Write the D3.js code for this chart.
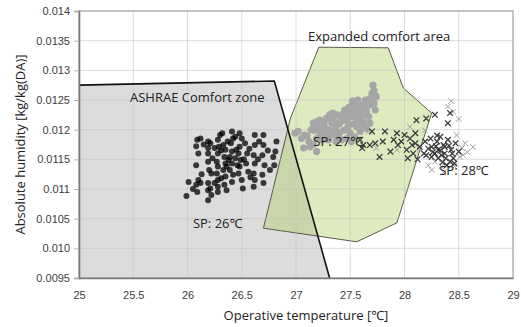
<!DOCTYPE html>
<html><head><meta charset="utf-8">
<script src="https://cdn.jsdelivr.net/npm/d3@7"></script>
<style>
html,body{margin:0;padding:0;background:#fff;}
svg{display:block;font-family:"Open Sans","Noto Sans",sans-serif;}
</style></head>
<body><svg id="chart" width="521" height="327"></svg>
<script>
// ---- data ----
const xTicks = [25,25.5,26,26.5,27,27.5,28,28.5,29];
const xTickLabels = ["25","25.5","26","26.5","27","27.5","28","28.5","29"];
const yTicks = [0.0095,0.010,0.0105,0.011,0.0115,0.012,0.0125,0.013,0.0135,0.014];
const yTickLabels = ["0.0095","0.010","0.0105","0.011","0.0115","0.012","0.0125","0.013","0.0135","0.014"];

const ashraeZone = [[25,0.0095],[25,0.01275],[26.80,0.01282],[27.31,0.0095]];
const expandedArea = [[27.21,0.01339],[27.85,0.01338],[27.99,0.01270],[28.25,0.01228],[27.93,0.01043],[27.56,0.01011],[26.70,0.01034],[26.95,0.01220]];

const sp26 = [[26.01,0.01112],[25.99,0.01088],[26.09,0.01183],[26.08,0.01172],[26.10,0.01160],[26.08,0.01140],[26.10,0.01115],[26.08,0.01107],[26.09,0.01095],[26.12,0.01185],[26.12,0.01110],
[26.19,0.01180],[26.19,0.01169],[26.19,0.01160],[26.19,0.01146],[26.20,0.01132],[26.19,0.01110],[26.19,0.01098],[26.19,0.01081],[26.21,0.01177],[26.22,0.01126],[26.21,0.01101],
[26.30,0.01191],[26.28,0.01183],[26.29,0.01171],[26.28,0.01160],[26.27,0.01146],[26.28,0.01138],[26.27,0.01126],[26.28,0.01115],[26.28,0.01104],[26.28,0.01095],
[26.32,0.01194],[26.33,0.01174],[26.35,0.01166],[26.34,0.01154],[26.35,0.01143],[26.33,0.01132],[26.35,0.01121],[26.34,0.01107],[26.36,0.01098],
[26.41,0.01197],[26.42,0.01185],[26.40,0.01177],[26.41,0.01163],[26.39,0.01154],[26.41,0.01143],[26.39,0.01132],[26.42,0.01124],[26.41,0.01112],
[26.48,0.01194],[26.50,0.01185],[26.48,0.01171],[26.47,0.01160],[26.49,0.01149],[26.48,0.01138],[26.47,0.01126],[26.50,0.01115],[26.51,0.01101],
[26.53,0.01177],[26.55,0.01160],[26.54,0.01143],[26.56,0.01129],
[26.62,0.01191],[26.62,0.01174],[26.61,0.01157],[26.62,0.01143],[26.61,0.01126],[26.62,0.01115],[26.61,0.01104],
[26.70,0.01191],[26.70,0.01174],[26.69,0.01157],[26.71,0.01140],[26.69,0.01124],[26.70,0.01110],
[26.82,0.01180],[26.81,0.01163],[26.79,0.01154],[26.80,0.01140],
[26.25,0.01169],[26.38,0.01149],[26.45,0.01166],[26.25,0.01110],[26.36,0.01138],[26.44,0.01152],
[26.15,0.01175],[26.23,0.01152],[26.31,0.01165],[26.37,0.01180],[26.44,0.01188],[26.46,0.01140],[26.52,0.01150],[26.57,0.01168],[26.58,0.01120],
[26.66,0.01180],[26.65,0.01150],[26.31,0.01118],[26.22,0.01090],[26.13,0.01125],[26.05,0.01100],[26.74,0.01165],[26.76,0.01132]];

const sp27 = [[26.99,0.01194],[27.02,0.01197],[27.07,0.01169],[27.08,0.01191],[27.13,0.01171],[27.19,0.01163],
[27.16,0.01211],[27.19,0.01213],[27.22,0.01216],[27.17,0.01199],[27.22,0.01199],[27.25,0.01202],[27.27,0.01191],[27.19,0.01185],[27.24,0.01183],[27.30,0.01183],
[27.28,0.01219],[27.31,0.01225],[27.34,0.01228],[27.33,0.01211],[27.36,0.01213],[27.37,0.01205],[27.31,0.01199],[27.34,0.01191],[27.39,0.01188],[27.42,0.01183],[27.37,0.01180],
[27.41,0.01222],[27.44,0.01228],[27.45,0.01233],[27.47,0.01216],[27.48,0.01205],[27.50,0.01194],[27.44,0.01199],[27.47,0.01185],[27.51,0.01180],
[27.50,0.01230],[27.53,0.01236],[27.54,0.01244],[27.56,0.01228],[27.57,0.01216],[27.56,0.01205],[27.59,0.01197],[27.54,0.01188],
[27.59,0.01239],[27.62,0.01242],[27.64,0.01250],[27.65,0.01230],[27.67,0.01222],[27.62,0.01213],[27.68,0.01211],[27.65,0.01202],
[27.70,0.01261],[27.71,0.01250],[27.68,0.01242],[27.73,0.01233],[27.74,0.01256],[27.71,0.01275],
[27.10,0.01190],[27.14,0.01200],[27.20,0.01205],[27.26,0.01210],[27.29,0.01200],[27.33,0.01220],[27.38,0.01225],[27.40,0.01210],[27.43,0.01215],
[27.46,0.01225],[27.49,0.01238],[27.52,0.01222],[27.53,0.01210],[27.58,0.01222],[27.60,0.01232],[27.63,0.01225],[27.66,0.01240],[27.68,0.01252],
[27.72,0.01244],[27.61,0.01208],[27.40,0.01195],[27.35,0.01198],[27.28,0.01188],[27.22,0.01190],[27.05,0.01185],[27.12,0.01180],[27.16,0.01175],
[27.72,0.01266],[27.52,0.01248],[27.57,0.01250],[27.47,0.01200]];

const sp28Dark = [[27.59,0.01183],[27.62,0.01174],[27.68,0.01174],[27.61,0.01169],[27.70,0.01197],[27.73,0.01177],[27.77,0.01154],[27.80,0.01180],[27.82,0.01197],
[27.87,0.01163],[27.90,0.01183],[27.93,0.01194],[27.94,0.01174],[28.00,0.01191],[28.02,0.01166],[28.03,0.01152],[28.08,0.01160],[28.10,0.01194],[28.11,0.01216],
[28.20,0.01219],[28.10,0.01177],[28.07,0.01174],[28.14,0.01171],[28.19,0.01180],[28.20,0.01157],[28.25,0.01154],[28.28,0.01225],[28.30,0.01180],[28.31,0.01166],
[28.33,0.01188],[28.36,0.01174],[28.37,0.01160],[28.40,0.01211],[28.42,0.01228],[28.40,0.01183],[28.43,0.01166],[28.45,0.01152],[28.47,0.01177],[28.50,0.01163],
[28.39,0.01140],[28.42,0.01146],[28.25,0.01171],[28.28,0.01160],[28.34,0.01157],[28.24,0.01185],[28.37,0.01171],[28.31,0.01152],
[28.33,0.01165],[28.29,0.01172],[28.38,0.01152],[28.44,0.01160],[28.35,0.01145],[28.26,0.01162],[28.22,0.01168],[28.41,0.01173],[28.46,0.01143],
[28.30,0.01190],[28.18,0.01160],[28.12,0.01150],[27.97,0.01180],[28.05,0.01185]];
const sp28Light = [[27.67,0.01197],[27.74,0.01169],[27.93,0.01166],[28.05,0.01205],[28.19,0.01199],[28.25,0.01132],[28.34,0.01138],[28.40,0.01239],
[28.45,0.01230],[28.48,0.01191],[28.51,0.01154],[28.54,0.01157],[28.63,0.01171],[28.56,0.01177],[28.28,0.01146],[28.14,0.01166],[28.53,0.01169],
[28.36,0.01128],[28.46,0.01138],[28.58,0.01162],[28.22,0.01140],[28.43,0.01248],[28.50,0.01218]];

const labels = [
  {text:"ASHRAE Comfort zone", x:25.47, y:0.01247},
  {text:"Expanded comfort area", x:27.11, y:0.01350},
  {text:"SP: 26\u2103", x:26.05, y:0.01034},
  {text:"SP: 27\u2103", x:27.16, y:0.01172},
  {text:"SP: 28\u2103", x:28.32, y:0.01124}
];

// ---- layout ----
const margin = {left:79, top:11, right:8, bottom:49};
const W = 521, H = 327;
const svg = d3.select("#chart");
const x = d3.scaleLinear().domain([25,29]).range([margin.left, W - margin.right]);
const y = d3.scaleLinear().domain([0.0095,0.014]).range([H - margin.bottom, margin.top]);
const line = d3.line().x(d=>x(d[0])).y(d=>y(d[1]));

// ASHRAE fill
svg.append("path").attr("d", line(ashraeZone)+"Z").attr("fill","#dcdcdc").attr("stroke","none");
// expanded area
svg.append("path").attr("d", line(expandedArea)+"Z")
  .attr("fill","rgb(170,205,95)").attr("fill-opacity",0.4)
  .attr("stroke","#4a4a3a").attr("stroke-width",0.9);

// grid
const grid = svg.append("g");
grid.selectAll("line.v").data(xTicks.slice(1,-1)).join("line")
  .attr("x1",d=>x(d)).attr("x2",d=>x(d)).attr("y1",y(0.0095)).attr("y2",y(0.014))
  .attr("stroke","#c4c4c4").attr("stroke-opacity",0.6).attr("stroke-width",1);
grid.selectAll("line.h").data(yTicks.slice(1,-1)).join("line")
  .attr("y1",d=>y(d)).attr("y2",d=>y(d)).attr("x1",x(25)).attr("x2",x(29))
  .attr("stroke","#c4c4c4").attr("stroke-opacity",0.6).attr("stroke-width",1);

// ASHRAE border (top and slanted right)
svg.append("path").attr("d", line(ashraeZone.slice(1)))
  .attr("fill","none").attr("stroke","#111").attr("stroke-width",1.6);

// frame
svg.append("rect").attr("x",x(25)).attr("y",y(0.014)).attr("width",x(29)-x(25)).attr("height",y(0.0095)-y(0.014))
  .attr("fill","none").attr("stroke","#8a8a8a").attr("stroke-width",1);

// axes
const xAxis = d3.axisBottom(x).tickValues(xTicks).tickSize(0).tickPadding(13)
  .tickFormat((d,i)=>xTickLabels[i]);
const gx = svg.append("g").attr("transform",`translate(0,${y(0.0095)})`).call(xAxis);
gx.select(".domain").attr("stroke","#7a7a7a").attr("stroke-width",1.6);
gx.selectAll("text").attr("fill","#404040").style("font-size","11px");

const yAxis = d3.axisLeft(y).tickValues(yTicks).tickSize(5).tickPadding(4)
  .tickFormat((d,i)=>yTickLabels[i]);
const gy = svg.append("g").attr("transform",`translate(${x(25)},0)`).call(yAxis);
gy.select(".domain").attr("stroke","#7a7a7a").attr("stroke-width",1.6);
gy.selectAll(".tick line").attr("stroke","#b0b0b0");
gy.selectAll("text").attr("fill","#404040").style("font-size","11px");

// points
svg.append("g").selectAll("circle").data(sp26).join("circle")
  .attr("cx",d=>x(d[0])).attr("cy",d=>y(d[1])).attr("r",3)
  .attr("fill","#000").attr("fill-opacity",0.75);
svg.append("g").selectAll("circle").data(sp27).join("circle")
  .attr("cx",d=>x(d[0])).attr("cy",d=>y(d[1])).attr("r",3.6)
  .attr("fill","#a6a6a6");
const cross = s => `M${-s},${-s}L${s},${s}M${-s},${s}L${s},${-s}`;
svg.append("g").selectAll("path").data(sp28Light).join("path")
  .attr("transform",d=>`translate(${x(d[0])},${y(d[1])})`).attr("d",cross(2.8))
  .attr("stroke","#a0a0a0").attr("stroke-width",1).attr("fill","none");
svg.append("g").selectAll("path").data(sp28Dark).join("path")
  .attr("transform",d=>`translate(${x(d[0])},${y(d[1])})`).attr("d",cross(2.8))
  .attr("stroke","#3c3c3c").attr("stroke-width",1.3).attr("fill","none");

// labels
svg.append("g").selectAll("text").data(labels).join("text")
  .attr("x",d=>x(d.x)).attr("y",d=>y(d.y)).text(d=>d.text)
  .attr("fill","#222").style("font-size","13px");

// axis titles
svg.append("text").attr("x",(x(25)+x(29))/2+10).attr("y",320).attr("text-anchor","middle")
  .attr("fill","#222").style("font-size","13px").text("Operative temperature [\u2103]");
svg.append("text").attr("transform",`translate(25,${(y(0.0095)+y(0.014))/2}) rotate(-90)`)
  .attr("text-anchor","middle").attr("fill","#222").style("font-size","13px")
  .text("Absolute humidity [kg/kg(DA)]");
</script></body></html>
